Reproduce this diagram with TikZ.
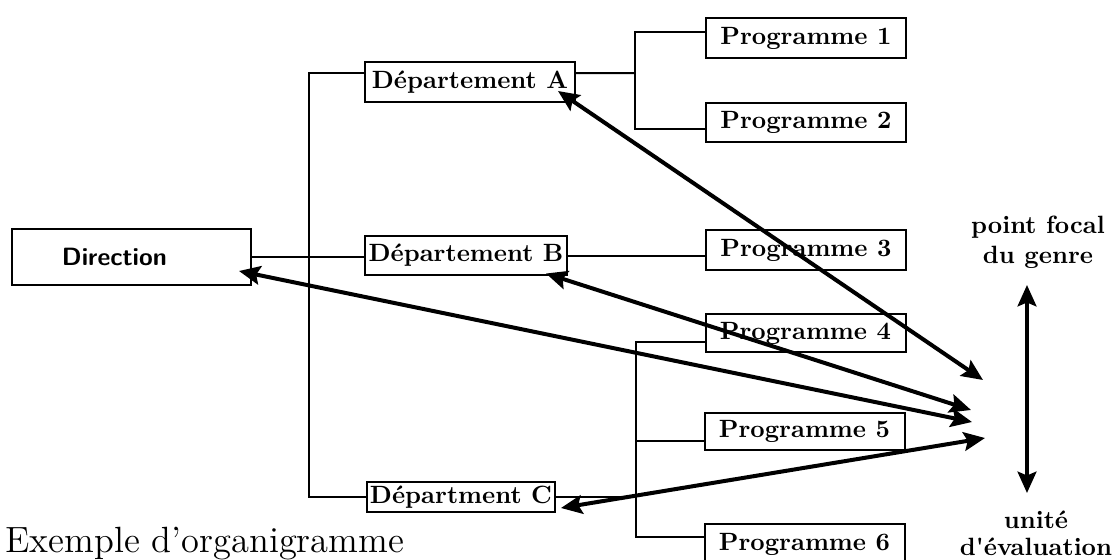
\documentclass[tikz,border=0pt]{standalone}
\usepackage{tikz}
\usetikzlibrary{arrows.meta}

\tikzset{
  orgbox/.style={draw, line width=0.8pt, font=\bfseries, inner xsep=1pt, inner ysep=0pt, minimum height=16pt},
  prog/.style={orgbox, minimum width=80pt},
  conn/.style={line width=0.8pt},
  biarrow/.style={{Stealth[length=8.5pt,width=7.5pt,inset=1.5pt]}-{Stealth[length=8.5pt,width=7.5pt,inset=1.5pt]}, line width=1.6pt},
  sidetext/.style={font=\bfseries, align=center, inner sep=0pt}
}

\begin{document}
\begin{tikzpicture}[x=0.4pt, y=-0.4pt]
   \useasboundingbox (0,0) rectangle (1115,560);
   % left part
   \node[orgbox, minimum width=95.6pt, minimum height=22.4pt, font=\sffamily\bfseries, text width=55.6pt, inner xsep=20pt, align=left] (dir) at (131.5,257) {Direction};
   \node[orgbox, minimum width=84pt] (deptA) at (470,82) {Département A};
   \node[orgbox, minimum width=80.8pt, minimum height=15.6pt] (deptB) at (466,255.5) {Département B};
   \node[orgbox, minimum width=75.2pt, minimum height=12pt] (deptC) at (461,497) {Départment C};
   % programmes
   \node[prog] (p1) at (806,38) {Programme 1};
   \node[prog, minimum height=15.6pt] (p2) at (806,122.5) {Programme 2};
   \node[prog] (p3) at (806,250) {Programme 3};
   \node[prog, minimum height=15.2pt] (p4) at (805.5,333) {Programme 4};
   \node[prog, minimum height=14.8pt] (p5) at (804.5,431.5) {Programme 5};
   \node[prog] (p6) at (804.5,544) {Programme 6};
   % tree lines
   \coordinate (spine) at (309,0);
   \draw[conn] ([yshift=3.6pt]deptA.west) -| (spine |- deptC.west) -- (deptC.west);
   \draw[conn] (dir.east) -- (dir.east -| deptB.west);
   \draw[conn] (deptB.east) -- (deptB.east -| p3.west);
   \coordinate (forkA) at (635,73);
   \draw[conn] ([yshift=3.6pt]deptA.east) -- (forkA);
   \draw[conn] ([yshift=2.4pt]p1.west) -| (forkA) |- ([yshift=-2.4pt]p2.west);
   \coordinate (forkC) at (636,497);
   \draw[conn] (deptC.east) -- (forkC);
   \draw[conn] ([yshift=-3.6pt]p4.west) -| (forkC) |- ([yshift=2.8pt]p6.west);
   \coordinate (p5in) at ([yshift=-3.6pt]p5.west);
   \draw[conn] (p5in) -- (p5in -| forkC);
   % right side
   \node[sidetext, anchor=north] (focal) at (1038,215) {point focal\\du genre};
   \node[sidetext, anchor=north, font=\bfseries\linespread{0.9}\selectfont] (unit) at (1036,510) {unité\\d\textquotesingle{}évaluation};
   \coordinate (axtop) at (1027,285);
   \coordinate (axbot) at (1027,493);
   \draw[biarrow] (axtop) -- (axbot);
   \coordinate (tgtA) at (983,380);
   \coordinate (tgtB) at (971,410);
   \coordinate (tgtD) at (972,422);
   \coordinate (tgtC) at (985,438);
   \draw[biarrow] ([shift={(-7.2pt,4.8pt)}]deptA.south east) -- (tgtA);
   \draw[biarrow] ([shift={(-8.8pt,1pt)}]deptB.south east) -- (tgtB);
   \draw[biarrow] ([shift={(-5.2pt,6pt)}]dir.south east) -- (tgtD);
   \draw[biarrow] ([shift={(2pt,2pt)}]deptC.south east) -- (tgtC);
   % caption
   \node[anchor=base west, inner sep=0pt, font=\fontsize{14.6}{17}\selectfont] (title) at (5,552) {Exemple d’organigramme};
\end{tikzpicture}
\end{document}
